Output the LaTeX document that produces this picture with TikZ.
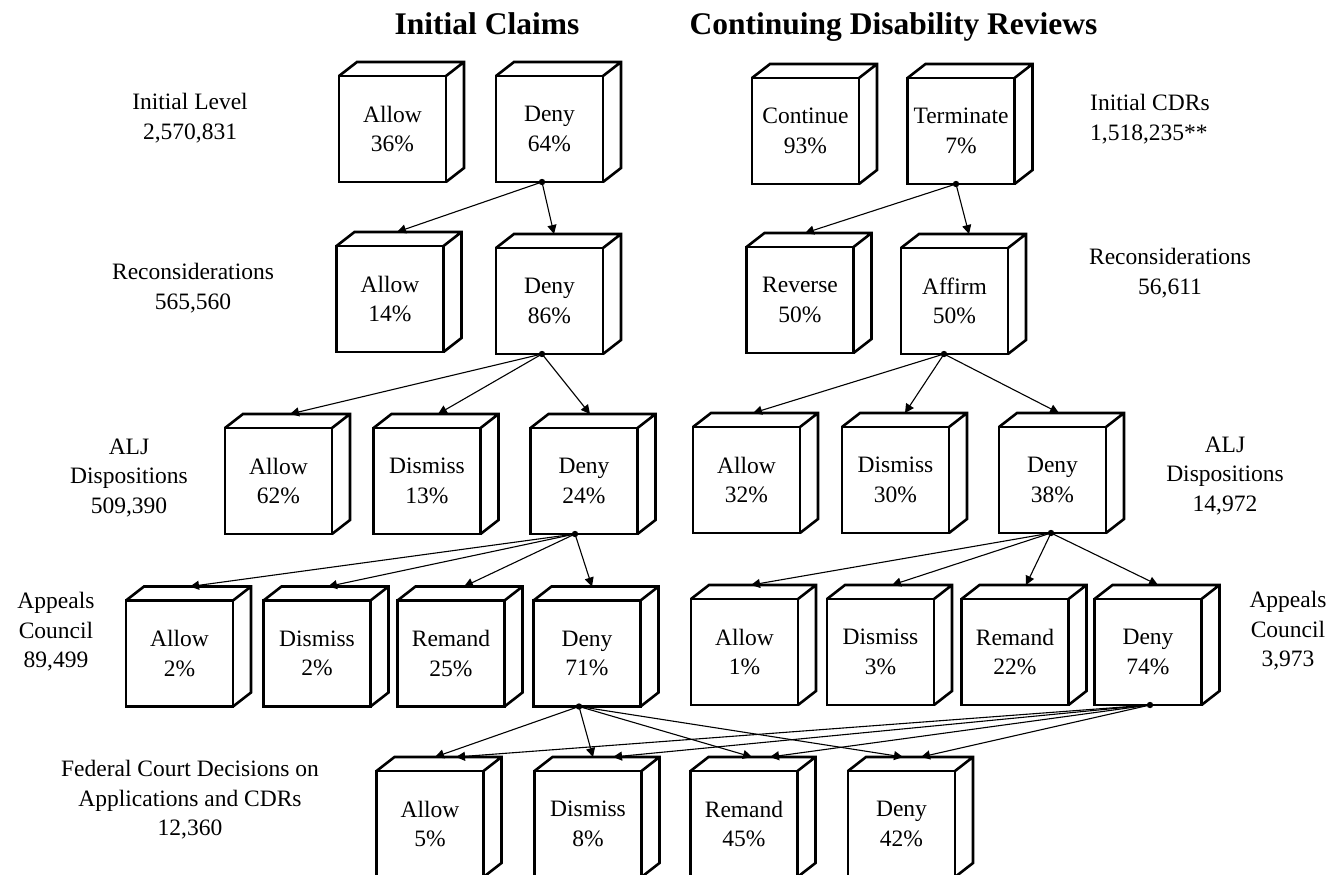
\documentclass[tikz,border=0pt]{standalone}
\usepackage{fontspec}
\setmainfont{Liberation Serif}
\usetikzlibrary{calc,arrows.meta}
\begin{document}
\begin{tikzpicture}[x=1pt,y=-1pt,
  cube/.style={draw, line width=2.6pt, minimum width=107pt, minimum height=106pt, inner sep=0pt, outer sep=0pt, align=center, font=\fontsize{23.5}{29.5}\selectfont},
  lbl/.style={align=center, inner sep=0pt, font=\fontsize{23.5}{29.5}\selectfont},
  ttl/.style={inner sep=0pt, anchor=base, font=\fontsize{31.5}{36}\selectfont\bfseries},
  face/.style={line width=2.6pt, line join=miter},
  conn/.style={line width=1.1pt, -{Triangle[length=9pt,width=9pt]}}]
\useasboundingbox (0,0) rectangle (1333,875);
\clip (0,0) rectangle (1333,875);

% titles
\node[ttl] (t1) at (487,35) {Initial Claims};
\node[ttl] (t2) at (893.5,35) {Continuing Disability Reviews};

% side labels
\node[lbl] (l1) at (190,118) {Initial Level\\2,570,831};
\node[lbl] (l2) at (193,288) {Reconsiderations\\565,560};
\node[lbl] (l3) at (129,478) {ALJ\\Dispositions\\509,390};
\node[lbl] (l4) at (56,632) {Appeals\\Council\\89,499};
\node[lbl] (l5) at (190,800) {Federal Court Decisions on\\Applications and CDRs\\12,360};
\node[lbl, align=left, anchor=west] (r1) at (1090,119) {Initial CDRs\\1,518,235**};
\node[lbl] (r2) at (1170,273) {Reconsiderations\\56,611};
\node[lbl] (r3) at (1225,476) {ALJ\\Dispositions\\14,972};
\node[lbl] (r4) at (1288,631) {Appeals\\Council\\3,973};

% row 1
\node[cube] (icA1) at (392.5,129) {Allow\\36\%};
\node[cube] (icD1) at (549.5,129) {Deny\\64\%};
\node[cube] (cdC1) at (805.5,131) {Continue\\93\%};
\node[cube] (cdT1) at (961,131) {Terminate\\7\%};
% row 2
\node[cube] (icA2) at (390,299) {Allow\\14\%};
\node[cube] (icD2) at (549.5,301) {Deny\\86\%};
\node[cube] (cdR2) at (800,300) {Reverse\\50\%};
\node[cube] (cdF2) at (954.5,301) {Affirm\\50\%};
% row 3
\node[cube] (icA3) at (278.5,481) {Allow\\62\%};
\node[cube] (icS3) at (427,481) {Dismiss\\13\%};
\node[cube] (icD3) at (584,481) {Deny\\24\%};
\node[cube] (cdA3) at (746.5,480) {Allow\\32\%};
\node[cube] (cdS3) at (895.5,480) {Dismiss\\30\%};
\node[cube] (cdD3) at (1052.5,480) {Deny\\38\%};
% row 4
\node[cube] (icA4) at (179.5,653.5) {Allow\\2\%};
\node[cube] (icS4) at (317,653.5) {Dismiss\\2\%};
\node[cube] (icR4) at (451,653.5) {Remand\\25\%};
\node[cube] (icD4) at (587,653.5) {Deny\\71\%};
\node[cube] (cdA4) at (744.5,652) {Allow\\1\%};
\node[cube] (cdS4) at (880.5,652) {Dismiss\\3\%};
\node[cube] (cdR4) at (1015,652) {Remand\\22\%};
\node[cube] (cdD4) at (1148,652) {Deny\\74\%};
% row 5
\node[cube] (fA) at (430,824) {Allow\\5\%};
\node[cube] (fS) at (588,824) {Dismiss\\8\%};
\node[cube] (fR) at (744,824) {Remand\\45\%};
\node[cube] (fD) at (901.5,824) {Deny\\42\%};

% cube top and side faces
\foreach \n in {icA1,icD1,cdC1,cdT1,icA2,icD2,cdR2,cdF2,icA3,icS3,icD3,cdA3,cdS3,cdD3,icA4,icS4,icR4,icD4,cdA4,cdS4,cdR4,cdD4,fA,fS,fR,fD}
  \draw[face] (\n.north west) -- ++(18,-14) -- ($(\n.north east)+(18,-14)$) -- ($(\n.south east)+(18,-14)$) -- (\n.south east)
              (\n.north east) -- ++(18,-14);

% branch points
\coordinate (p1) at ($(icD1.south)+(-7.5,0)$);
\coordinate (q1) at ($(cdT1.south)+(-5,0)$);
\coordinate (p2) at ($(icD2.south)+(-7.5,0)$);
\coordinate (q2) at ($(cdF2.south)+(-10.5,0)$);
\coordinate (p3) at ($(icD3.south)+(-9,0)$);
\coordinate (q3) at ($(cdD3.south)+(-1.5,0)$);
\coordinate (p4) at ($(icD4.south)+(-8,0)$);
\coordinate (q4) at ($(cdD4.south)+(2,0)$);
\foreach \c in {p1,q1,p2,q2,p3,q3,p4,q4} \fill (\c) circle[radius=3.2pt];

% connectors
\draw[conn] (p1) -- ($(icA2.north)+(7,-14)$);
\draw[conn] (p1) -- ($(icD2.north)+(4.5,-14)$);
\draw[conn] (q1) -- ($(cdR2.north)+(5,-14)$);
\draw[conn] (q1) -- ($(cdF2.north)+(14.5,-14)$);

\draw[conn] (p2) -- ($(icA3.north)+(11.5,-14)$);
\draw[conn] (p2) -- ($(icS3.north)+(11,-14)$);
\draw[conn] (p2) -- ($(icD3.north)+(6,-14)$);
\draw[conn] (q2) -- ($(cdA3.north)+(6.5,-14)$);
\draw[conn] (q2) -- ($(cdS3.north)+(9.5,-14)$);
\draw[conn] (q2) -- ($(cdD3.north)+(6.5,-14)$);

\draw[conn] (p3) -- ($(icA4.north)+(10.5,-14)$);
\draw[conn] (p3) -- ($(icS4.north)+(11,-14)$);
\draw[conn] (p3) -- ($(icR4.north)+(13,-14)$);
\draw[conn] (p3) -- ($(icD4.north)+(5,-14)$);
\draw[conn] (q3) -- ($(cdA4.north)+(6.5,-14)$);
\draw[conn] (q3) -- ($(cdS4.north)+(11.5,-14)$);
\draw[conn] (q3) -- ($(cdR4.north)+(11,-14)$);
\draw[conn] (q3) -- ($(cdD4.north)+(10,-14)$);

\draw[conn] (p4) -- ($(fA.north)+(5,-14)$);
\draw[conn] (p4) -- ($(fS.north)+(5,-14)$);
\draw[conn] (p4) -- ($(fR.north)+(8,-14)$);
\draw[conn] (p4) -- ($(fD.north)+(1.5,-14)$);
\draw[conn] (q4) -- ($(fA.north)+(26,-14)$);
\draw[conn] (q4) -- ($(fS.north)+(25,-14)$);
\draw[conn] (q4) -- ($(fR.north)+(26,-14)$);
\draw[conn] (q4) -- ($(fD.north)+(19.5,-14)$);
\end{tikzpicture}
\end{document}
